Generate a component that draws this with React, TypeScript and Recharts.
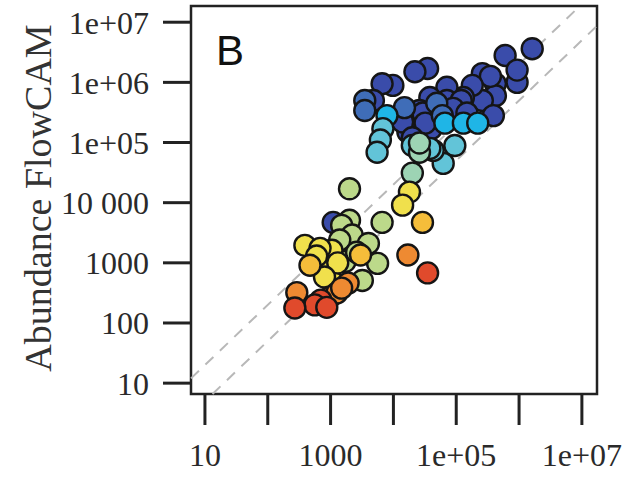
import React from 'react';
import { ScatterChart, Scatter, XAxis, YAxis, ReferenceLine, ReferenceArea } from 'recharts';

// decade ticks; the x axis only labels every other one
const xTicks = [10, 100, 1000, 10000, 100000, 1000000, 10000000];
const xTickLabels = ['10', '', '1000', '', '1e+05', '', '1e+07'];
const yTicks = [10, 100, 1000, 10000, 100000, 1000000, 10000000];
const yTickLabels = ['10', '100', '1000', '10 000', '1e+05', '1e+06', '1e+07'];

const xDomain = [6, 17400000];
const yDomain = [6.6, 18600000];

// [abundance (x), abundance FlowCAM (y)] per colour class
const darkBlue = [
    [1100, 4700], [17000, 150000], [28000, 140000], [40000, 170000],
    [1620000, 3630000], [600000, 2800000], [930000, 1000000], [930000, 1600000], [420000, 950000],
    [420000, 600000], [260000, 500000],
    [260000, 1400000], [350000, 1260000], [180000, 890000], [130000, 560000], [71000, 830000],
    [35000, 1700000], [22000, 1500000], [9800, 890000], [6600, 950000], [38000, 560000],
    [71000, 500000], [120000, 500000], [89000, 370000], [46000, 380000], [26000, 340000],
    [148000, 310000], [29500, 310000], [4800, 500000],
    [390000, 280000], [32000, 210000], [14000, 220000], [20000, 120000],
];
const steelBlue = [[3500, 500000], [3500, 340000], [15000, 380000], [49000, 450000], [60000, 280000]];
const cyan = [[7900, 280000], [66000, 210000], [130000, 210000], [220000, 210000]];
const lightCyan = [
    [6800, 170000], [6200, 110000], [5500, 69000], [95000, 89000], [62000, 45000],
    [43000, 74000], [20000, 89000], [38000, 80000],
];
const tealGreen = [[26000, 69000], [20000, 31000], [26000, 98000]];
const lightGreen = [
    [2000, 17000], [6600, 4700], [2000, 5100], [1500, 4200], [2200, 2900], [4000, 2100],
    [5600, 980], [3200, 510], [1400, 2400], [1700, 1050], [2600, 1500],
];
const yellow = [
    [18000, 15000], [14000, 9100], [390, 1950], [1050, 1620], [680, 1740], [870, 760],
    [1150, 460], [600, 1300], [1300, 1000], [800, 580],
];
const gold = [[29000, 4700], [3000, 1350], [470, 910]];
const orange = [[1900, 460], [290, 320], [980, 270], [17000, 1350], [1260, 316], [1500, 380]];
const red = [[700, 240], [560, 200], [270, 178], [35000, 680], [870, 182]];

const groups = [
    { name: 'darkBlue', points: darkBlue, color: '#3a4caa' },
    { name: 'steelBlue', points: steelBlue, color: '#3f6db8' },
    { name: 'cyan', points: cyan, color: '#1fb5e6' },
    { name: 'lightCyan', points: lightCyan, color: '#62c4d8' },
    { name: 'tealGreen', points: tealGreen, color: '#9dd4b4' },
    { name: 'lightGreen', points: lightGreen, color: '#bcd98a' },
    { name: 'yellow', points: yellow, color: '#f0e04c' },
    { name: 'gold', points: gold, color: '#f5bd3a' },
    { name: 'orange', points: orange, color: '#ee8a32' },
    { name: 'red', points: red, color: '#e04a2c' },
];

// dashed guides: y = 2x and y = x/2, clipped to the plot box
const upperGuide = [{ x: 6, y: 12 }, { x: 9300000, y: 18600000 }];
const lowerGuide = [{ x: 13.2, y: 6.6 }, { x: 17400000, y: 8700000 }];

const serif = '"Liberation Serif", "DejaVu Serif", serif';

const Dot = (props: any) => (
    <circle cx={props.cx} cy={props.cy} r={10.5} fill={props.fill} stroke="#151515" strokeWidth={2.4} />
);

export default function App() {
    return (
        <div style={{ position: 'absolute', left: 0, top: 0, width: 643, height: 482, background: '#fff' }}>
            <ScatterChart width={643} height={482} margin={{ top: 6, right: 46, bottom: 0, left: 0 }}>
                <XAxis
                    type="number"
                    dataKey="x"
                    scale="log"
                    domain={xDomain}
                    allowDataOverflow
                    ticks={xTicks}
                    tickFormatter={(v: number) => xTickLabels[xTicks.indexOf(v)] ?? ''}
                    height={88}
                    axisLine={false}
                    tickSize={31}
                    tickMargin={18}
                    tickLine={{ stroke: '#222', strokeWidth: 3 }}
                    tick={{ fill: '#2a2a2a', fontSize: 32, fontFamily: serif }}
                    interval={0}
                />
                <YAxis
                    type="number"
                    dataKey="y"
                    scale="log"
                    domain={yDomain}
                    allowDataOverflow
                    ticks={yTicks}
                    tickFormatter={(v: number) => yTickLabels[yTicks.indexOf(v)] ?? ''}
                    width={191}
                    axisLine={false}
                    tickSize={28}
                    tickMargin={14}
                    tickLine={{ stroke: '#222', strokeWidth: 3 }}
                    tick={{ fill: '#2a2a2a', fontSize: 32, fontFamily: serif }}
                    interval={0}
                />
                <ReferenceArea
                    x1={xDomain[0]}
                    x2={xDomain[1]}
                    y1={yDomain[0]}
                    y2={yDomain[1]}
                    fill="none"
                    fillOpacity={0}
                    stroke="#222"
                    strokeWidth={2.5}
                    ifOverflow="visible"
                />
                {groups.map((g) => (
                    <Scatter
                        key={g.name}
                        name={g.name}
                        data={g.points.map(([x, y]) => ({ x, y }))}
                        fill={g.color}
                        shape={Dot}
                        isAnimationActive={false}
                    />
                ))}
                <ReferenceLine segment={upperGuide} stroke="#b8b8b8" strokeWidth={2} strokeDasharray="11 9" ifOverflow="visible" />
                <ReferenceLine segment={lowerGuide} stroke="#b8b8b8" strokeWidth={2} strokeDasharray="11 9" ifOverflow="visible" />
            </ScatterChart>
            <svg width={643} height={482} style={{ position: 'absolute', left: 0, top: 0, pointerEvents: 'none' }}>
                <text x={216} y={65} fontSize={42} fontFamily='"Liberation Sans", Arial, sans-serif' fill="#111">
                    B
                </text>
                <text
                    x={51}
                    y={198}
                    transform="rotate(-90 51 198)"
                    textAnchor="middle"
                    fontSize={38}
                    fontFamily={serif}
                    fill="#333"
                >
                    Abundance FlowCAM
                </text>
            </svg>
        </div>
    );
}
